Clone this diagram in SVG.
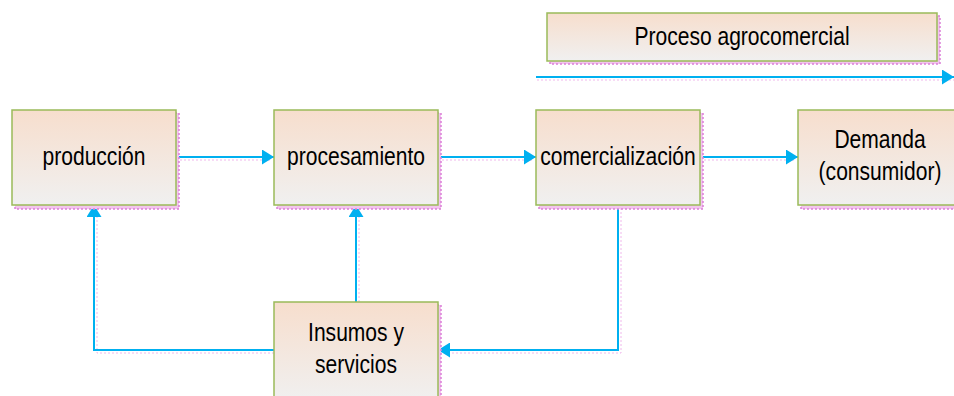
<svg xmlns="http://www.w3.org/2000/svg" width="954" height="396" viewBox="0 0 954 396">
<defs>
<linearGradient id="g" x1="0" y1="0" x2="0" y2="1">
<stop offset="0" stop-color="#F7DECD"/>
<stop offset="1" stop-color="#F0F0F0"/>
</linearGradient>
<marker id="ah" markerWidth="13" markerHeight="15" refX="12" refY="7.5" orient="auto" markerUnits="userSpaceOnUse">
<path d="M0,0 L12,7.5 L0,15 Z" fill="#00B0F0"/>
</marker>
</defs>
<style>
.sh{fill:#F2C4EE;stroke:#DC7FD8;stroke-width:1.5;stroke-dasharray:2 2}
.bx{fill:url(#g);stroke:#9BBB59;stroke-width:1.5}
.t{font-family:"Liberation Sans",Arial,sans-serif;font-size:26px;fill:#000;text-anchor:middle}
.c{fill:none;stroke:#00B0F0;stroke-width:2}
.cs{fill:none;stroke:#F0B8EC;stroke-width:1;stroke-dasharray:2 2}
</style>
<g id="connectors">
<path class="cs" d="M176,160 H272 M438,160 H534 M700,160 H796 M97,208 V353 H274 M359,208 V302 M621,208 V353 H440 M537,80 H954"/>
<path class="c" d="M176,157 H274" marker-end="url(#ah)"/>
<path class="c" d="M438,157 H536" marker-end="url(#ah)"/>
<path class="c" d="M700,157 H798" marker-end="url(#ah)"/>
<path class="c" d="M274,350 H94 V205" marker-end="url(#ah)"/>
<path class="c" d="M356,302 V205" marker-end="url(#ah)"/>
<path class="c" d="M618,205 V350 H438" marker-end="url(#ah)"/>
<path class="c" d="M536,77 H954" marker-end="url(#ah)"/>
</g>
<g id="proceso">
<rect class="sh" x="550" y="16" width="390" height="48"/>
<rect class="bx" x="547" y="13" width="390" height="48"/>
<text class="t" transform="translate(742,45) scale(0.81,1)">Proceso agrocomercial</text>
</g>
<g id="produccion">
<rect class="sh" x="15" y="113" width="164" height="96"/>
<rect class="bx" x="12" y="110" width="164" height="95"/>
<text class="t" transform="translate(94,165) scale(0.81,1)">producción</text>
</g>
<g id="procesamiento">
<rect class="sh" x="277" y="113" width="164" height="96"/>
<rect class="bx" x="274" y="110" width="164" height="95"/>
<text class="t" transform="translate(356,165) scale(0.81,1)">procesamiento</text>
</g>
<g id="comercializacion">
<rect class="sh" x="539" y="113" width="164" height="96"/>
<rect class="bx" x="536" y="110" width="164" height="95"/>
<text class="t" transform="translate(618,165) scale(0.81,1)">comercialización</text>
</g>
<g id="demanda">
<rect class="sh" x="801" y="113" width="164" height="96"/>
<rect class="bx" x="798" y="110" width="164" height="95"/>
<text class="t" transform="translate(880,148) scale(0.81,1)">Demanda</text>
<text class="t" transform="translate(880,180) scale(0.81,1)">(consumidor)</text>
</g>
<g id="insumos">
<rect class="sh" x="277" y="305" width="164" height="100"/>
<rect class="bx" x="274" y="302" width="164" height="100"/>
<text class="t" transform="translate(356,341) scale(0.81,1)">Insumos y</text>
<text class="t" transform="translate(356,373) scale(0.81,1)">servicios</text>
</g>
</svg>
